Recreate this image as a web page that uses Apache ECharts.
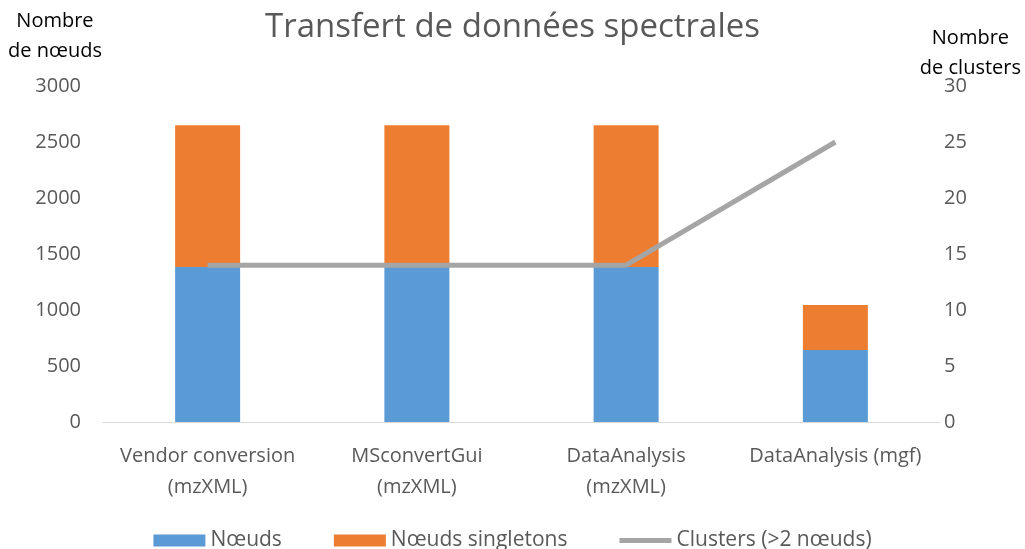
<!DOCTYPE html>
<html>
<head>
<meta charset="utf-8">
<script src="https://cdn.jsdelivr.net/npm/echarts@6/dist/echarts.min.js"></script>
<style>
  html, body { margin: 0; padding: 0; background: #fff; }
  #chart { width: 1025px; height: 549px; }
</style>
</head>
<body>
<div id="chart"></div>
<script>
const categories = [
  'Vendor conversion\n(mzXML)',
  'MSconvertGui\n(mzXML)',
  'DataAnalysis\n(mzXML)',
  'DataAnalysis (mgf)'
]
const noeuds = [1385, 1385, 1385, 643]
const singletons = [1265, 1265, 1265, 402]
const clusters = [14, 14, 14, 25]

const font = 'Open Sans, Noto Sans, sans-serif'
const grey = '#595959'

const chart = echarts.init(document.getElementById('chart'))

const option = {
  backgroundColor: '#fff',
  textStyle: { fontFamily: font },
  title: {
    text: 'Transfert de données spectrales',
    left: 'center',
    top: 6,
    textStyle: { fontSize: 33, fontWeight: 400, color: grey, fontFamily: font }
  },
  graphic: [
    {
      type: 'text', left: 8, top: 6,
      style: { text: 'Nombre\nde nœuds', fill: '#000', font: '20px ' + font, textAlign: 'center', lineHeight: 30 }
    },
    {
      type: 'text', right: 4, top: 23,
      style: { text: 'Nombre\nde clusters', fill: '#000', font: '20px ' + font, textAlign: 'center', lineHeight: 30 }
    }
  ],
  legend: {
    bottom: -7,
    left: 'center',
    itemWidth: 52,
    itemHeight: 12,
    itemGap: 52,
    textStyle: { fontSize: 21, color: grey, fontFamily: font },
    data: [
      { name: 'Nœuds', icon: 'rect' },
      { name: 'Nœuds singletons', icon: 'rect' },
      { name: 'Clusters (>2 nœuds)', icon: 'path://M0,0 H60 V6 H0 Z' }
    ]
  },
  grid: { left: 103, right: 85, top: 86, bottom: 127 },
  xAxis: {
    type: 'category',
    data: categories,
    axisTick: { show: false },
    axisLine: { lineStyle: { color: '#d9d9d9' } },
    axisLabel: { color: grey, fontSize: 20, lineHeight: 31, margin: 19, interval: 0 }
  },
  yAxis: [
    {
      type: 'value', min: 0, max: 3000, interval: 500,
      splitLine: { show: false },
      axisLine: { show: false },
      axisLabel: { color: grey, fontSize: 20, margin: 22, formatter: v => String(v) }
    },
    {
      type: 'value', min: 0, max: 30, interval: 5,
      splitLine: { show: false },
      axisLine: { show: false },
      axisLabel: { color: grey, fontSize: 20, margin: 4 }
    }
  ],
  series: [
    {
      name: 'Nœuds', type: 'bar', stack: 'n', barWidth: 65,
      itemStyle: { color: '#5b9bd5' },
      data: noeuds
    },
    {
      name: 'Nœuds singletons', type: 'bar', stack: 'n', barWidth: 65,
      itemStyle: { color: '#ed7d31' },
      data: singletons
    },
    {
      name: 'Clusters (>2 nœuds)', type: 'line', yAxisIndex: 1,
      symbol: 'none',
      lineStyle: { color: '#a5a5a5', width: 5 },
      itemStyle: { color: '#a5a5a5' },
      data: clusters
    }
  ]
}

chart.setOption(option)
</script>
</body>
</html>
